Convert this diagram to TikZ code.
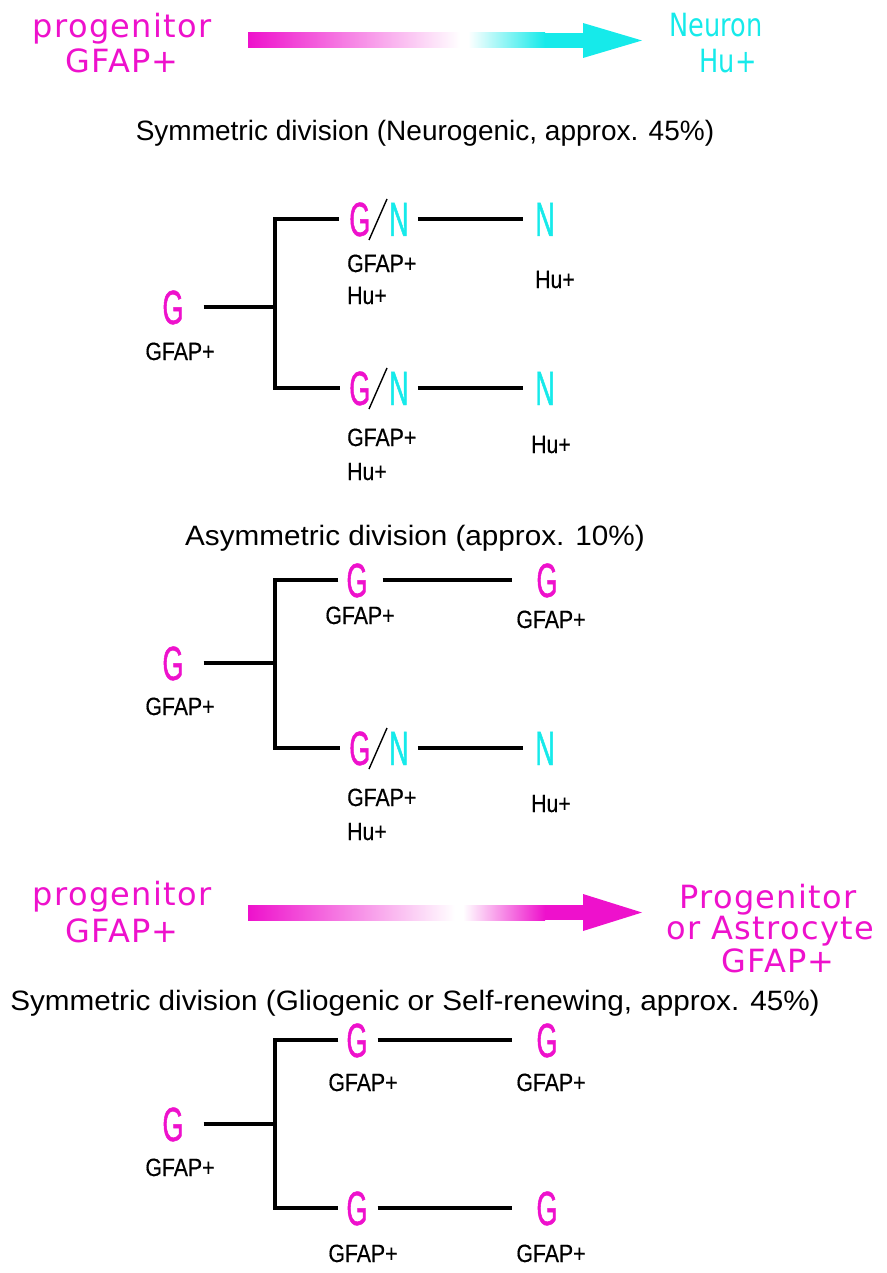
\documentclass[tikz,border=0pt]{standalone}
\usepackage{fontspec}
\setmainfont{Liberation Sans}[FakeStretch=0.85,FakeBold=0.4]
\newfontfamily\headfont{DejaVu Sans}[LetterSpace=4]
\newfontfamily\headnfont{DejaVu Sans}[FakeStretch=0.8]
\newfontfamily\titlefont{Liberation Sans}
\newfontfamily\titlefontw{Liberation Sans}[FakeStretch=1.06]
\newfontfamily\bigfont{Liberation Sans}[FakeStretch=0.56,FakeBold=1]
\definecolor{mag}{RGB}{238,17,204}
\definecolor{cy}{RGB}{22,234,234}
\tikzset{
  head/.style={anchor=base,inner sep=0pt,font=\headfont\fontsize{32}{38}\selectfont},
  headn/.style={anchor=base,inner sep=0pt,font=\headnfont\fontsize{32}{38}\selectfont},
  title/.style={anchor=base,inner sep=0pt,font=\titlefont\fontsize{28}{32}\selectfont},
  titlew/.style={anchor=base,inner sep=0pt,font=\titlefontw\fontsize{28}{32}\selectfont},
  big/.style={anchor=base,inner sep=0pt,text height=34pt,text depth=0pt,font=\bigfont\fontsize{48}{56}\selectfont},
  lab/.style={anchor=base,inner sep=0pt,font=\fontsize{25}{30}\selectfont},
  labw/.style={anchor=base west,inner sep=0pt,font=\fontsize{25}{30}\selectfont},
  conn/.style={line width=4pt,black,line join=miter},
  slash/.style={line width=1.4pt,black},
}
\newcommand{\GN}{{\color{mag}G}\hspace{19pt}{\color{cy}N}}
\begin{document}
\begin{tikzpicture}[x=1pt,y=-1pt]
\useasboundingbox (0,0) rectangle (886,1273);
% ---------- top heading ----------
\node[head,text=mag] (p1) at (122,38) {progenitor};
\node[head,text=mag] (p1g) at (122,73) {GFAP+};
\node[headn,text=cy] (n1) at (716,37) {Neuron};
\node[headn,text=cy] (n1h) at (728,73) {Hu+};
\shade[left color=mag,middle color=mag!72,right color=white] (248,33) rectangle (460,48);
\shade[left color=white,middle color=cy!75,right color=cy] (468,33) rectangle (545,48);
\fill[cy] (544.5,33) rectangle (586,48);
\fill[cy] (583,23) -- (642,40.5) -- (583,58) -- cycle;
\node[title] (t1) at (425,141) {Symmetric division (Neurogenic, approx. 45\%)};
% ---------- tree 1 ----------
\node[big,text=mag] (g1) at (173,324) {G};
\node[lab] (g1l) at (180,360) {GFAP+};
\coordinate (j1) at (275,305);
\node[big] (a1) at (379,236) {\GN};
\node[big,text=cy] (a2) at (545,236) {N};
\node[labw] (a1l) at (347,272) {GFAP+};
\node[labw] (a1m) at (347,304) {Hu+};
\node[labw] (a2l) at (535,288) {Hu+};
\node[big] (b1) at (379,405) {\GN};
\node[big,text=cy] (b2) at (545,405) {N};
\node[labw] (b1l) at (347,446) {GFAP+};
\node[labw] (b1m) at (347,480) {Hu+};
\node[labw] (b2l) at (531,453) {Hu+};
\draw[slash] ([shift={(-10,4)}]a1.base) -- ([shift={(8,-37)}]a1.base);
\draw[slash] ([shift={(-10,4)}]b1.base) -- ([shift={(8,-37)}]b1.base);
\draw[conn,shorten <=20pt] (g1.east) -- (g1.east -| j1);
\draw[conn,shorten <=10pt,shorten >=9pt] (a1.west) -- (a1.west -| j1) -- (b1.west -| j1) -- (b1.west);
\draw[conn,shorten <=9pt,shorten >=12pt] (a1.east) -- (a2.west);
\draw[conn,shorten <=9pt,shorten >=12pt] (b1.east) -- (b2.west);
% ---------- tree 2 ----------
\node[titlew] (t2) at (415,545) {Asymmetric division (approx. 10\%)};
\node[big,text=mag] (g2) at (173,680) {G};
\node[lab] (g2l) at (180,715) {GFAP+};
\coordinate (j2) at (275,663);
\node[big,text=mag] (c1) at (357,597) {G};
\node[big,text=mag] (c2) at (547,597) {G};
\node[lab] (c1l) at (360,624) {GFAP+};
\node[lab] (c2l) at (551,628) {GFAP+};
\node[big] (d1) at (379,765) {\GN};
\node[big,text=cy] (d2) at (545,765) {N};
\node[labw] (d1l) at (347,806) {GFAP+};
\node[labw] (d1m) at (347,840) {Hu+};
\node[labw] (d2l) at (531,812) {Hu+};
\draw[slash] ([shift={(-10,4)}]d1.base) -- ([shift={(8,-37)}]d1.base);
\draw[conn,shorten <=20pt] (g2.east) -- (g2.east -| j2);
\draw[conn,shorten <=8pt,shorten >=9pt] (c1.west) -- (c1.west -| j2) -- (d1.west -| j2) -- (d1.west);
\draw[conn,shorten <=15pt,shorten >=24pt] (c1.east) -- (c2.west);
\draw[conn,shorten <=9pt,shorten >=12pt] (d1.east) -- (d2.west);
% ---------- bottom heading ----------
\node[head,text=mag] (p2) at (122,905) {progenitor};
\node[head,text=mag] (p2g) at (122,942) {GFAP+};
\node[head,text=mag] (q1) at (768,908) {Progenitor};
\node[head,text=mag] (q2) at (770,939) {or Astrocyte};
\node[head,text=mag] (q3) at (778,972) {GFAP+};
\shade[left color=mag,middle color=mag!72,right color=white] (248,905) rectangle (455,920);
\shade[left color=white,middle color=mag!75,right color=mag] (463,905) rectangle (545,920);
\fill[mag] (544.5,905) rectangle (586,920);
\fill[mag] (583,894) -- (642,912.5) -- (583,931) -- cycle;
\node[titlew] (t3) at (415,1010) {Symmetric division (Gliogenic or Self-renewing, approx. 45\%)};
% ---------- tree 3 ----------
\node[big,text=mag] (g3) at (173,1141) {G};
\node[lab] (g3l) at (180,1176) {GFAP+};
\coordinate (j3) at (275,1124);
\node[big,text=mag] (e1) at (357,1057) {G};
\node[big,text=mag] (e2) at (547,1057) {G};
\node[lab] (e1l) at (363,1091) {GFAP+};
\node[lab] (e2l) at (551,1091) {GFAP+};
\node[big,text=mag] (f1) at (357,1225) {G};
\node[big,text=mag] (f2) at (547,1225) {G};
\node[lab] (f1l) at (363,1262) {GFAP+};
\node[lab] (f2l) at (551,1262) {GFAP+};
\draw[conn,shorten <=20pt] (g3.east) -- (g3.east -| j3);
\draw[conn,shorten <=8pt,shorten >=8pt] (e1.west) -- (e1.west -| j3) -- (f1.west -| j3) -- (f1.west);
\draw[conn,shorten <=10pt,shorten >=24pt] (e1.east) -- (e2.west);
\draw[conn,shorten <=10pt,shorten >=24pt] (f1.east) -- (f2.west);
\end{tikzpicture}
\end{document}
